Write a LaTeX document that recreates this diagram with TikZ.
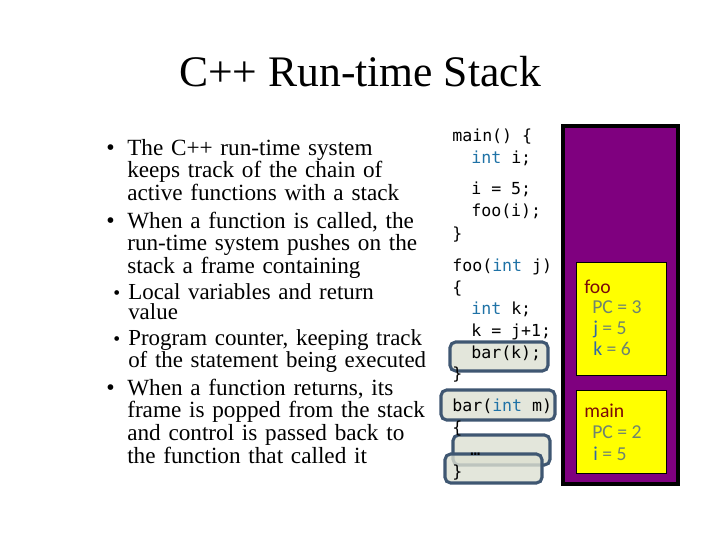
\documentclass[tikz,border=0pt]{standalone}
\usepackage{fontspec}
\setmainfont{Liberation Serif}
\newfontfamily\codefont{DejaVu Sans Mono}
\newfontfamily\framefont{Carlito}
\definecolor{stackpurple}{HTML}{7F007F}
\definecolor{frameyellow}{HTML}{FFFF00}
\definecolor{framered}{HTML}{7A0A0A}
\definecolor{pcgrey}{HTML}{6E8470}
\definecolor{varblue}{HTML}{3068A8}
\definecolor{kwblue}{HTML}{1F72A6}
\definecolor{hlfill}{HTML}{DDE0D2}
\definecolor{hlborder}{HTML}{3F5772}
\usetikzlibrary{positioning}

\begin{document}
\begin{tikzpicture}[
  x=0.025cm, y=-0.025cm,
  every node/.style={inner sep=0pt},
  bullettext/.style={anchor=base west, align=left, text width=9cm,
                     font=\fontsize{16.5}{16.2}\selectfont},
  subtext/.style={bullettext, font=\fontsize{16.3}{14.8}\selectfont},
  dot/.style={anchor=base west, font=\fontsize{17}{17}\selectfont},
  subdot/.style={anchor=base west, font=\fontsize{14}{14}\selectfont},
  code/.style={anchor=base west, font=\codefont\fontsize{11.8}{13}\selectfont},
  hilite/.style={draw=hlborder, line width=2.2pt, fill=hlfill,
                 fill opacity=0.8, rounded corners=4pt},
  framebox/.style={draw=black, line width=0.6pt, fill=frameyellow},
  frametext/.style={anchor=base west, text=pcgrey,
                    font=\framefont\fontsize{14}{15}\selectfont}
]
  \useasboundingbox[fill=white] (0,0) rectangle (720,540);

  % title
  \node[anchor=base, font=\fontsize{31}{31}\selectfont] (title)
    at (360,86) {C++ Run-time Stack};

  % bullet list
  \node[dot] (d1) at (106,155) {•};
  \node[bullettext] (t1) at (127,155) {The C++ run-time system\\
    keeps track of the chain of\\ active functions with a stack};
  \node[dot] (d2) at (106,228) {•};
  \node[bullettext] (t2) at (127,228) {When a function is called, the\\
    run-time system pushes on the\\ stack a frame containing};
  \node[subdot] (s1) at (113,299) {•};
  \node[subtext] (u1) at (128,299) {Local variables and return\\ value};
  \node[subdot] (s2) at (113,345) {•};
  \node[subtext] (u2) at (128,345) {Program counter, keeping track\\
    of the statement being executed};
  \node[dot] (d3) at (106,395) {•};
  \node[bullettext] (t3) at (127,395) {When a function returns, its\\
    frame is popped from the stack\\ and control is passed back to\\
    the function that called it};

  % highlights
  \draw[hilite] (450,342) rectangle (548,371);
  \draw[hilite] (441,390) rectangle (555,420);
  \draw[hilite] (453,435) rectangle (550,465);
  \draw[hilite] (445,454) rectangle (542,483);

  % code
  \node[code] (c1)  at (452,141) {main() \{};
  \node[code] (c2)  at (471,163) {\textcolor{kwblue}{int} i;};
  \node[code] (c3)  at (471,194) {i = 5;};
  \node[code] (c4)  at (471,216) {foo(i);};
  \node[code] (c5)  at (452,239) {\}};
  \node[code] (c6)  at (452,271) {foo(\textcolor{kwblue}{int} j)};
  \node[code] (c7)  at (452,293) {\{};
  \node[code] (c8)  at (471,314) {\textcolor{kwblue}{int} k;};
  \node[code] (c9)  at (471,336) {k = j+1;};
  \node[code] (c10) at (471,358) {bar(k);};
  \node[code] (c11) at (452,379) {\}};
  \node[code] (c12) at (452,411) {bar(\textcolor{kwblue}{int} m)};
  \node[code] (c13) at (452,433) {\{};
  \node[code] (c14) at (470,455) {…};
  \node[code] (c15) at (452,477) {\}};

  % run-time stack
  \draw[fill=stackpurple, draw=black, line width=3pt] (563,126) rectangle (678,484);
  \draw[framebox] (576,262) rectangle (666,375);
  \draw[framebox] (576,390) rectangle (666,473);

  \node[frametext, text=framered] (foolbl) at (584,293) {foo};
  \node[frametext] (foopc) at (592,313) {PC = 3};
  \node[frametext] (fooj) at (593,334) {\textcolor{varblue}{j} = 5};
  \node[frametext] (fook) at (593,355) {\textcolor{varblue}{k} = 6};
  \node[frametext, text=framered] (mainlbl) at (584,417) {main};
  \node[frametext] (mainpc) at (592,438) {PC = 2};
  \node[frametext] (maini) at (593,460) {\textcolor{varblue}{i} = 5};
\end{tikzpicture}
\end{document}
